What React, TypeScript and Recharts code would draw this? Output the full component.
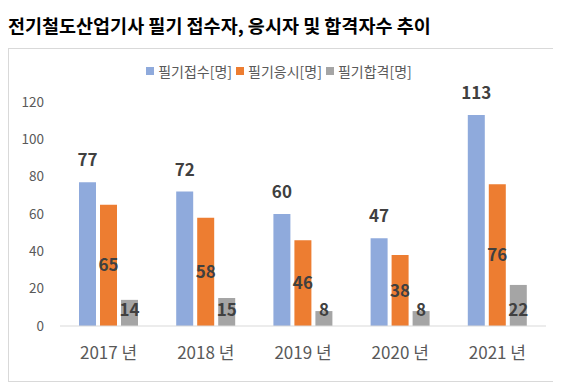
import { BarChart, Bar, XAxis, YAxis, Legend, LabelList } from "recharts";

const years = ["2017 년", "2018 년", "2019 년", "2020 년", "2021 년"];
const applied = [77, 72, 60, 47, 113];
const took = [65, 58, 46, 38, 76];
const passed = [14, 15, 8, 8, 22];
const yTicks = [0, 20, 40, 60, 80, 100, 120];

const seriesNames = ["필기접수[명]", "필기응시[명]", "필기합격[명]"];
const colors = ["#8faadc", "#ed7d31", "#a5a5a5"];

const data = years.map((y, i) => ({
  name: y,
  applied: applied[i],
  took: took[i],
  passed: passed[i],
}));

const font = "'Noto Sans CJK KR', 'Noto Sans', sans-serif";
const labelStyle = { fontSize: 17, fontWeight: 700, fill: "#404040", fontFamily: font };

function LegendBox() {
  return (
    <div
      style={{
        display: "flex",
        justifyContent: "center",
        alignItems: "center",
        height: 20,
        fontFamily: font,
        fontSize: 14,
        color: "#595959",
      }}
    >
      {seriesNames.map((n, i) => (
        <div key={n} style={{ display: "flex", alignItems: "center", marginRight: 4 }}>
          <span style={{ width: 8, height: 8, background: colors[i], marginRight: 4, display: "inline-block" }} />
          <span>{n}</span>
        </div>
      ))}
    </div>
  );
}

export default function App() {
  return (
    <div style={{ width: 546, fontFamily: font }}>
      <div style={{ height: 40, lineHeight: "34px", fontSize: 18.5, fontWeight: 700, color: "#000" }}>
        전기철도산업기사 필기 접수자, 응시자 및 합격자수 추이
      </div>
      <div style={{ width: 544, height: 332, border: "1px solid #d9d9d9" }}>
        <BarChart
          width={544}
          height={332}
          data={data}
          margin={{ top: 33, right: 7, bottom: 0, left: 0 }}
          barSize={17}
          barGap={4}
        >
          <Legend
            verticalAlign="top"
            content={() => <LegendBox />}
            wrapperStyle={{ top: 12, left: 0, width: 544 }}
          />
          <XAxis
            dataKey="name"
            axisLine={{ stroke: "#d9d9d9" }}
            tickLine={false}
            tickMargin={15}
            height={55}
            tick={{ fontSize: 17, fill: "#595959", fontFamily: font }}
          />
          <YAxis
            domain={[0, 120]}
            ticks={yTicks}
            axisLine={false}
            tickLine={false}
            width={51}
            tickMargin={10}
            tick={{ fontSize: 13.5, fill: "#595959", fontFamily: font }}
          />
          <Bar dataKey="applied" fill={colors[0]} isAnimationActive={false}>
            <LabelList dataKey="applied" position="top" offset={16} style={labelStyle} />
          </Bar>
          <Bar dataKey="took" fill={colors[1]} isAnimationActive={false}>
            <LabelList dataKey="took" position="center" style={labelStyle} />
          </Bar>
          <Bar dataKey="passed" fill={colors[2]} isAnimationActive={false}>
            <LabelList dataKey="passed" position="insideBottom" offset={10} style={labelStyle} />
          </Bar>
        </BarChart>
      </div>
    </div>
  );
}
